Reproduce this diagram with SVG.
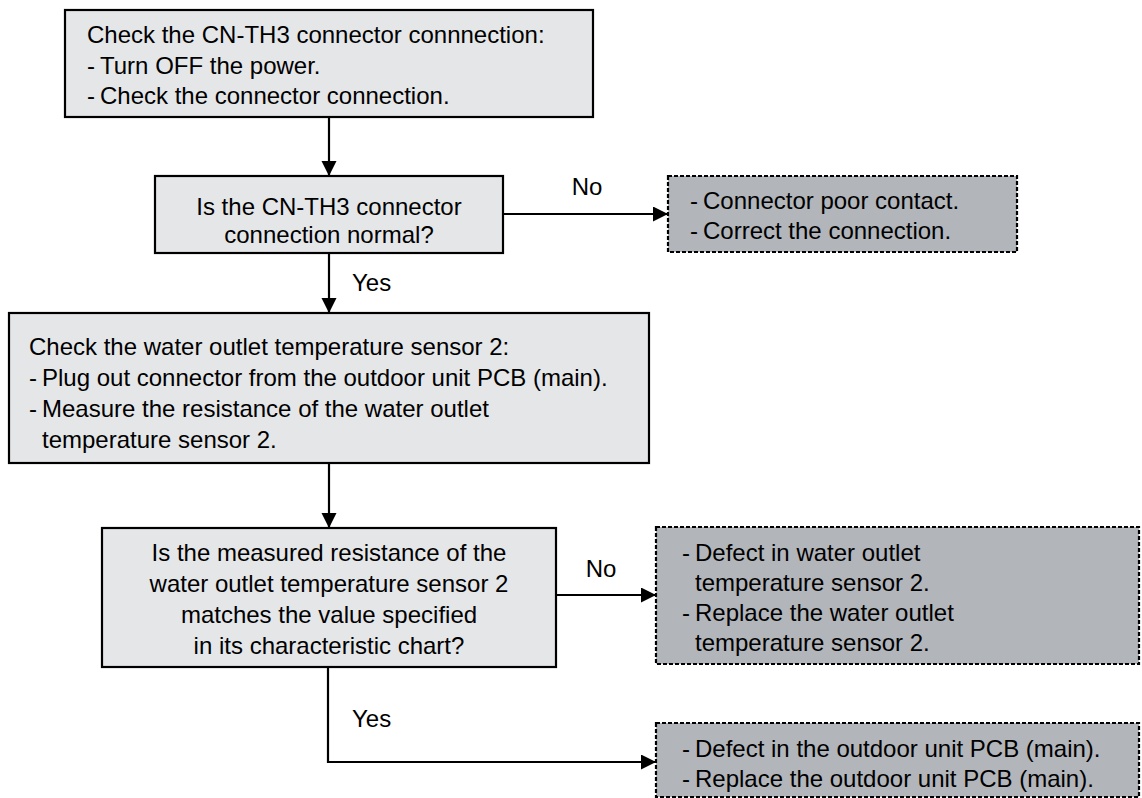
<svg xmlns="http://www.w3.org/2000/svg" width="1142" height="798" viewBox="0 0 1142 798">
<defs>
<style>
.box{fill:#e5e6e8;stroke:#000;stroke-width:2.2}
.res{fill:#b2b5ba;stroke:#000;stroke-width:2.2;stroke-dasharray:4 2}
.t{font-family:"Liberation Sans",Arial,sans-serif;font-size:24px;fill:#000}
.c{text-anchor:middle}
.ln{fill:none;stroke:#000;stroke-width:2.2}
</style>
<marker id="ah" markerUnits="userSpaceOnUse" markerWidth="16" markerHeight="16" refX="15" refY="7.5" orient="auto">
<path d="M0,0 L15,7.5 L0,15 z" fill="#000"/>
</marker>
</defs>
<rect width="1142" height="798" fill="#fff"/>
<g id="n1">
<rect class="box" x="65" y="10" width="528" height="107"/>
<text class="t" x="87" y="43">Check the CN-TH3 connector connnection:</text>
<text class="t" x="87" y="74">-<tspan x="100">Turn OFF the power.</tspan></text>
<text class="t" x="87" y="104">-<tspan x="100">Check the connector connection.</tspan></text>
</g>
<g id="n2">
<rect class="box" x="155" y="176" width="348" height="77"/>
<text class="t c" x="329" y="215">Is the CN-TH3 connector</text>
<text class="t c" x="329" y="243">connection normal?</text>
</g>
<g id="n3">
<rect class="res" x="668" y="176" width="349" height="76"/>
<text class="t" x="690" y="209">-<tspan x="703">Connector poor contact.</tspan></text>
<text class="t" x="690" y="239">-<tspan x="703">Correct the connection.</tspan></text>
</g>
<g id="n4">
<rect class="box" x="9" y="313" width="640" height="150"/>
<text class="t" x="29" y="355">Check the water outlet temperature sensor 2:</text>
<text class="t" x="29" y="386">-<tspan x="42">Plug out connector from the outdoor unit PCB (main).</tspan></text>
<text class="t" x="29" y="417">-<tspan x="42">Measure the resistance of the water outlet</tspan></text>
<text class="t" x="42" y="448">temperature sensor 2.</text>
</g>
<g id="n5">
<rect class="box" x="102" y="528" width="454" height="139"/>
<text class="t c" x="329" y="561">Is the measured resistance of the</text>
<text class="t c" x="329" y="592">water outlet temperature sensor 2</text>
<text class="t c" x="329" y="623">matches the value specified</text>
<text class="t c" x="329" y="654">in its characteristic chart?</text>
</g>
<g id="n6">
<rect class="res" x="656" y="527" width="483" height="137"/>
<text class="t" x="682" y="561">-<tspan x="695">Defect in water outlet</tspan></text>
<text class="t" x="695" y="591">temperature sensor 2.</text>
<text class="t" x="682" y="621">-<tspan x="695">Replace the water outlet</tspan></text>
<text class="t" x="695" y="651">temperature sensor 2.</text>
</g>
<g id="n7">
<rect class="res" x="656" y="723" width="483" height="74"/>
<text class="t" x="682" y="757">-<tspan x="695">Defect in the outdoor unit PCB (main).</tspan></text>
<text class="t" x="682" y="787">-<tspan x="695">Replace the outdoor unit PCB (main).</tspan></text>
</g>
<g id="connectors">
<line class="ln" x1="329" y1="117" x2="329" y2="176" marker-end="url(#ah)"/>
<line class="ln" x1="503" y1="214" x2="668" y2="214" marker-end="url(#ah)"/>
<line class="ln" x1="329" y1="253" x2="329" y2="313" marker-end="url(#ah)"/>
<line class="ln" x1="329" y1="463" x2="329" y2="528" marker-end="url(#ah)"/>
<line class="ln" x1="556" y1="595" x2="656" y2="595" marker-end="url(#ah)"/>
<path class="ln" d="M328,667 L328,762 L656,762" marker-end="url(#ah)"/>
<text class="t c" x="587" y="195">No</text>
<text class="t" x="352" y="291">Yes</text>
<text class="t c" x="601" y="577">No</text>
<text class="t" x="352" y="727">Yes</text>
</g>
</svg>
